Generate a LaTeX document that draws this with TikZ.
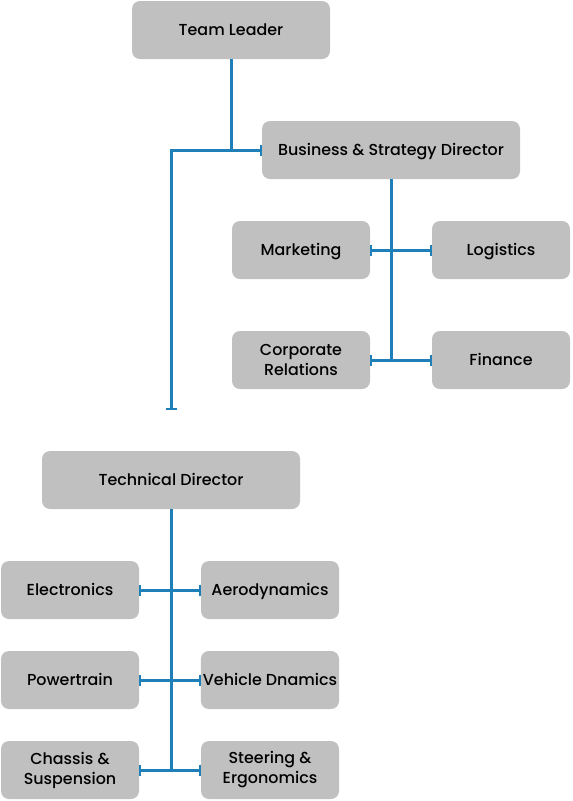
\documentclass[tikz,border=0pt]{standalone}
\usepackage{fontspec}
\setmainfont{Poppins}[UprightFont={* Medium}]
\usetikzlibrary{arrows.meta}
\definecolor{boxgray}{HTML}{C0C0C0}
\definecolor{linkblue}{HTML}{1F7FB8}
\tikzset{
  box/.style={fill=boxgray, rounded corners=8pt, minimum width=138pt, minimum height=58pt, align=center, inner sep=2pt, font=\fontsize{15.9}{20}\selectfont},
  oneline/.style={text height=11pt, text depth=0pt},
  widebox/.style={box, minimum width=258pt},
  link/.style={draw=linkblue, line width=3pt},
  bartip/.style={-{Bar[width=11pt,line width=2pt]}}
}
\begin{document}
\begin{tikzpicture}[x=1pt,y=-1pt]
\useasboundingbox (0,0) rectangle (573,801);
\node[box, oneline, minimum width=198pt] (tl) at (231,30) {Team Leader};
\node[widebox, oneline] (bsd) at (391,150) {Business \& Strategy Director};
\node[box, oneline] (mkt) at (301,250) {Marketing};
\node[box, oneline] (log) at (501,250) {Logistics};
\node[box] (cor) at (301,360) {Corporate\\Relations};
\node[box, oneline] (fin) at (501,360) {Finance};
\node[widebox, oneline] (td) at (171,480) {Technical Director};
\node[box, oneline] (ele) at (70,590) {Electronics};
\node[box, oneline] (aer) at (270,590) {Aerodynamics};
\node[box, oneline] (pow) at (70,680) {Powertrain};
\node[box, oneline] (veh) at (270,680) {Vehicle Dnamics};
\node[box] (cha) at (70,770) {Chassis \&\\Suspension};
\node[box] (ste) at (270,770) {Steering \&\\Ergonomics};
\coordinate (j0) at (231,150);
\coordinate (tdend) at (171,410);
\coordinate (j1) at (391,250);
\coordinate (j2) at (391,360);
\coordinate (k1) at (171,590);
\coordinate (k2) at (171,680);
\coordinate (k3) at (171,770);
% top
\draw[link] (tl.south) -- (j0);
\draw[link, bartip] (j0) -- (bsd.west);
\draw[link, bartip] (j0) -| (tdend);
% business
\draw[link] (bsd.south) -- (j2);
\draw[link, bartip] (j1) -- (mkt.east);
\draw[link, bartip] (j1) -- (log.west);
\draw[link, bartip] (j2) -- (cor.east);
\draw[link, bartip] (j2) -- (fin.west);
% technical
\draw[link] (td.south) -- (k3);
\draw[link, bartip] (k1) -- (ele.east);
\draw[link, bartip] (k1) -- (aer.west);
\draw[link, bartip] (k2) -- (pow.east);
\draw[link, bartip] (k2) -- (veh.west);
\draw[link, bartip] (k3) -- (cha.east);
\draw[link, bartip] (k3) -- (ste.west);
\end{tikzpicture}
\end{document}
